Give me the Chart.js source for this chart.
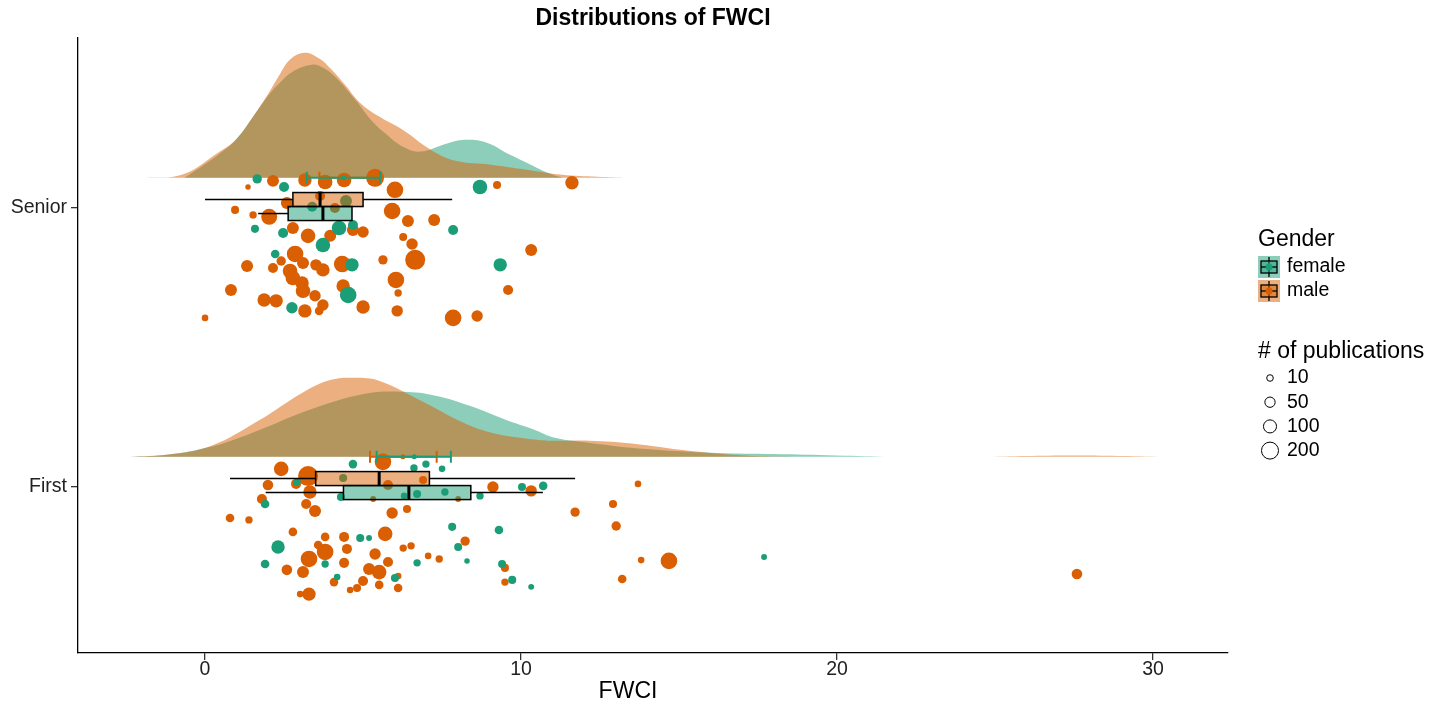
<!DOCTYPE html>
<html>
<head>
<meta charset="utf-8">
<title>Distributions of FWCI</title>
<script src="https://cdn.jsdelivr.net/npm/chart.js@4.4.1/dist/chart.umd.min.js"></script>
<style>
  body { margin: 0; background: #fff; }
  #wrap { width: 1442px; height: 709px; }
</style>
</head>
<body>
<div id="wrap"><canvas id="chart" width="1442" height="709"></canvas></div>
<script>
const FONT = '"Liberation Sans", Arial, sans-serif';
const TEAL = '#1b9e77';
const ORANGE = '#d95f02';

const categories = ['First', 'Senior'];
const xTicks = [0, 10, 20, 30];
const sizeBreaks = [10, 50, 100, 200];

// points: [FWCI, vertical jitter (category units), # of publications]
const seniorFemale = [
  [1.65, 0.104, 37], [2.50, 0.075, 46], [1.58, -0.075, 22], [2.47, -0.090, 46], [2.22, -0.165, 28],
  [3.73, -0.133, 135], [4.24, -0.072, 135], [4.68, -0.061, 46], [4.65, -0.204, 107], [4.53, -0.312, 188],
  [2.75, -0.358, 68], [8.70, 0.075, 135], [7.85, -0.079, 46], [9.34, -0.204, 107], [3.39, 0.004, 46],
  [4.46, 0.025, 78]
];
const seniorMale = [
  [1.36, 0.075, 4], [2.15, 0.097, 78], [3.16, 0.100, 107], [3.80, 0.093, 135], [4.40, 0.100, 135],
  [5.38, 0.108, 231], [6.01, 0.065, 188], [0.95, -0.007, 22], [1.52, -0.025, 16], [2.03, -0.032, 171],
  [2.59, 0.018, 78], [2.78, -0.072, 78], [3.26, -0.100, 135], [3.96, -0.100, 78], [4.68, -0.079, 78],
  [5.00, -0.086, 68], [5.92, -0.011, 188], [2.85, -0.165, 188], [3.10, -0.197, 78], [2.41, -0.190, 37],
  [1.33, -0.208, 78], [2.15, -0.215, 46], [2.69, -0.226, 135], [2.78, -0.251, 135], [3.51, -0.204, 68],
  [3.73, -0.222, 107], [4.34, -0.201, 188], [5.63, -0.186, 37], [3.07, -0.269, 107], [3.10, -0.297, 135],
  [3.48, -0.315, 68], [4.37, -0.280, 107], [0.82, -0.294, 78], [1.87, -0.330, 107], [2.25, -0.333, 107],
  [3.73, -0.348, 68], [3.61, -0.369, 28], [3.16, -0.369, 107], [5.00, -0.355, 107], [0.00, -0.394, 10],
  [6.04, -0.258, 188], [6.11, -0.305, 16], [6.08, -0.369, 68], [6.42, -0.047, 78], [6.27, -0.104, 22],
  [6.55, -0.129, 68], [6.65, -0.186, 299], [7.25, -0.043, 78], [7.85, -0.394, 188], [8.61, -0.387, 68],
  [9.59, -0.294, 46], [10.32, -0.151, 78], [9.24, 0.082, 22], [11.61, 0.090, 107], [4.11, 0.000, 46],
  [3.64, 0.043, 46]
];
const firstFemale = [
  [4.68, 0.082, 28], [6.61, 0.068, 16], [6.99, 0.082, 16], [2.91, 0.018, 16], [1.90, -0.061, 28],
  [4.30, -0.036, 22], [2.31, -0.215, 107], [4.91, -0.183, 22], [5.19, -0.183, 6], [1.90, -0.276, 28],
  [3.80, -0.276, 16], [4.18, -0.323, 10], [6.01, -0.326, 22], [6.71, -0.272, 16], [6.30, -0.032, 10],
  [6.71, -0.025, 22], [4.37, 0.032, 22], [7.50, 0.065, 10], [8.70, -0.032, 16], [10.03, 0.000, 22],
  [10.70, 0.004, 28], [7.82, -0.143, 22], [9.30, -0.154, 28], [8.01, -0.215, 22], [8.29, -0.265, 4],
  [9.40, -0.276, 22], [9.72, -0.333, 22], [10.32, -0.358, 6], [7.59, -0.018, 16], [17.69, -0.251, 6]
];
const firstMale = [
  [2.41, 0.065, 135], [3.26, 0.039, 299], [3.32, -0.018, 107], [1.99, 0.007, 55], [2.88, 0.011, 46],
  [1.80, -0.043, 46], [0.79, -0.111, 28], [1.39, -0.118, 16], [3.20, -0.061, 46], [3.48, -0.086, 78],
  [2.78, -0.161, 28], [3.80, -0.179, 28], [4.40, -0.179, 46], [5.70, -0.168, 135], [4.49, -0.222, 46],
  [3.80, -0.233, 188], [3.58, -0.208, 28], [3.29, -0.258, 188], [2.59, -0.297, 55], [3.10, -0.305, 78],
  [4.40, -0.272, 46], [5.38, -0.240, 68], [5.79, -0.269, 46], [5.19, -0.294, 78], [5.51, -0.305, 135],
  [4.08, -0.341, 28], [5.00, -0.337, 46], [4.81, -0.362, 22], [4.59, -0.369, 10], [5.51, -0.351, 28],
  [6.11, -0.362, 28], [6.11, -0.319, 10], [3.29, -0.384, 107], [3.01, -0.384, 10], [5.92, -0.093, 68],
  [6.39, -0.079, 22], [5.32, -0.043, 6], [5.79, 0.007, 46], [5.63, 0.090, 188], [6.27, -0.219, 16],
  [6.52, -0.211, 16], [7.06, -0.247, 10], [6.90, 0.025, 22], [9.11, 0.000, 68], [10.32, -0.014, 68],
  [8.01, -0.043, 6], [11.71, -0.090, 37], [12.91, -0.061, 22], [13.01, -0.140, 37], [8.23, -0.194, 37],
  [7.41, -0.258, 16], [9.49, -0.290, 22], [9.49, -0.341, 16], [13.20, -0.330, 28], [13.70, 0.011, 10],
  [13.80, -0.262, 10], [14.68, -0.265, 188], [27.59, -0.312, 55]
];

// boxplot stats: [lower whisker, Q1, median, Q3, upper whisker]
const boxSeniorFemale = [1.68, 2.63, 3.73, 4.65, 4.65];
const boxSeniorMale = [0.00, 2.78, 3.64, 5.00, 7.82];
const boxFirstFemale = [1.92, 4.38, 6.45, 8.41, 10.69];
const boxFirstMale = [0.79, 3.50, 5.51, 7.10, 11.71];

// mean with error bar: [low, mean, high]
const errSeniorFemale = [3.22, 4.38, 5.54];
const errSeniorMale = [3.62, 4.40, 5.20];
const errFirstFemale = [5.43, 6.62, 7.78];
const errFirstMale = [5.22, 6.26, 7.33];

// density curves: [FWCI, scaled density]
const densSeniorFemale = [
  [-0.65, 0], [0.41, 0.082], [0.98, 0.137], [1.54, 0.222], [1.99, 0.293], [2.32, 0.335],
  [2.77, 0.380], [3.37, 0.405], [3.67, 0.398], [4.10, 0.364], [4.78, 0.276], [5.24, 0.209],
  [5.68, 0.161], [6.25, 0.112], [6.81, 0.094], [7.71, 0.125], [8.29, 0.136], [8.94, 0.125],
  [9.62, 0.084], [10.18, 0.054], [10.84, 0.018], [11.30, 0]
];
const densSeniorMale = [
  [-1.89, 0], [-0.71, 0.012], [0.41, 0.090], [0.98, 0.137], [1.54, 0.222], [1.99, 0.299],
  [2.32, 0.362], [2.70, 0.425], [3.16, 0.448], [3.60, 0.428], [4.00, 0.388], [4.46, 0.329],
  [4.90, 0.269], [5.47, 0.222], [6.25, 0.172], [7.15, 0.100], [7.93, 0.061], [9.05, 0.047],
  [10.18, 0.029], [11.30, 0.011], [12.40, 0.004], [13.40, 0]
];
const densFirstFemale = [
  [-2.37, 0], [-1.15, 0.008], [0.18, 0.036], [1.00, 0.065], [1.74, 0.097], [3.29, 0.168],
  [5.06, 0.226], [6.29, 0.233], [7.29, 0.219], [8.40, 0.182], [9.51, 0.133], [10.40, 0.098],
  [11.07, 0.068], [12.18, 0.050], [13.96, 0.028], [16.18, 0.014], [17.96, 0.010], [19.96, 0.005],
  [21.74, 0]
];
const densFirstMale = [
  [-2.37, 0], [-1.15, 0.008], [0.18, 0.039], [1.74, 0.133], [3.07, 0.229], [3.96, 0.275],
  [4.74, 0.283], [5.52, 0.272], [6.85, 0.200], [8.18, 0.122], [9.07, 0.086], [9.96, 0.068],
  [10.85, 0.058], [12.18, 0.058], [13.50, 0.048], [15.30, 0.022], [17.07, 0.005], [18.85, 0],
  [24.50, 0], [27.50, 0.005], [30.60, 0]
];

const CLOUD_BASE = 0.108;   // density baseline above each category
const BOX_SPLIT = 0.005;    // dodge line between the two boxes

function radius(n) { return 1.8 + 0.474 * Math.sqrt(n); }
function alpha(hex, a) {
  const v = parseInt(hex.slice(1), 16);
  return `rgba(${v >> 16},${(v >> 8) & 255},${v & 255},${a})`;
}

// a density that drops to zero and rises again is split into separate pieces
function pieces(dens) {
  const out = [[]];
  dens.forEach((pt, i) => {
    const prev = dens[i - 1];
    if (prev && prev[1] === 0 && pt[1] === 0) out.push([]);
    out[out.length - 1].push(pt);
  });
  return out.filter(p => p.length > 1);
}

function densitySets(dens, cat, color, order) {
  const base = cat + CLOUD_BASE;
  return pieces(dens).map(part => ({
    type: 'line',
    data: part.map(([x, d]) => ({ x, y: base + d })),
    fill: { value: base },
    backgroundColor: alpha(color, 0.5),
    borderColor: 'rgba(0,0,0,0)',
    borderWidth: 0,
    pointRadius: 0,
    tension: 0.4,
    order
  }));
}
function pointSet(pts, cat, color, order) {
  return {
    type: 'bubble',
    data: pts.map(([x, j, n]) => ({ x, y: cat + j, r: radius(n) })),
    backgroundColor: color,
    borderWidth: 0,
    order
  };
}

const SENIOR = categories.indexOf('Senior');
const FIRST = categories.indexOf('First');

const datasets = [
  ...densitySets(densSeniorFemale, SENIOR, TEAL, 21),
  ...densitySets(densSeniorMale, SENIOR, ORANGE, 20),
  ...densitySets(densFirstFemale, FIRST, TEAL, 21),
  ...densitySets(densFirstMale, FIRST, ORANGE, 20),
  pointSet(seniorMale, SENIOR, ORANGE, 4),
  pointSet(firstMale, FIRST, ORANGE, 4),
  pointSet(seniorFemale, SENIOR, TEAL, 2),
  pointSet(firstFemale, FIRST, TEAL, 2)
];

function drawBox(ctx, xs, ys, s, cat, color, above) {
  const split = ys.getPixelForValue(cat + BOX_SPLIT);
  const h = 14;
  const top = above ? split - h : split;
  const mid = top + h / 2;
  const p = v => xs.getPixelForValue(v);
  ctx.save();
  ctx.strokeStyle = '#000';
  ctx.lineWidth = 1.5;
  ctx.beginPath();
  ctx.moveTo(p(s[0]), mid); ctx.lineTo(p(s[1]), mid);
  ctx.moveTo(p(s[3]), mid); ctx.lineTo(p(s[4]), mid);
  ctx.stroke();
  ctx.fillStyle = alpha(color, 0.5);
  ctx.fillRect(p(s[1]), top, p(s[3]) - p(s[1]), h);
  ctx.strokeRect(p(s[1]), top, p(s[3]) - p(s[1]), h);
  ctx.lineWidth = 3;
  ctx.beginPath();
  ctx.moveTo(p(s[2]), top); ctx.lineTo(p(s[2]), top + h);
  ctx.stroke();
  ctx.restore();
}

function drawErr(ctx, xs, ys, e, cat, color) {
  const y = ys.getPixelForValue(cat + CLOUD_BASE);
  const p = v => xs.getPixelForValue(v);
  ctx.save();
  ctx.strokeStyle = color;
  ctx.lineWidth = 2;
  ctx.beginPath();
  ctx.moveTo(p(e[0]), y); ctx.lineTo(p(e[2]), y);
  ctx.moveTo(p(e[0]), y - 6); ctx.lineTo(p(e[0]), y + 6);
  ctx.moveTo(p(e[2]), y - 6); ctx.lineTo(p(e[2]), y + 6);
  ctx.stroke();
  ctx.fillStyle = color;
  ctx.beginPath();
  ctx.arc(p(e[1]), y, 2.5, 0, Math.PI * 2);
  ctx.fill();
  ctx.restore();
}

const extras = {
  id: 'extras',
  afterDatasetsDraw(chart) {
    const { ctx, scales: { x, y } } = chart;
    drawBox(ctx, x, y, boxSeniorMale, SENIOR, ORANGE, true);
    drawBox(ctx, x, y, boxSeniorFemale, SENIOR, TEAL, false);
    drawBox(ctx, x, y, boxFirstMale, FIRST, ORANGE, true);
    drawBox(ctx, x, y, boxFirstFemale, FIRST, TEAL, false);
    drawErr(ctx, x, y, errSeniorMale, SENIOR, ORANGE);
    drawErr(ctx, x, y, errFirstMale, FIRST, ORANGE);
    drawErr(ctx, x, y, errSeniorFemale, SENIOR, TEAL);
    drawErr(ctx, x, y, errFirstFemale, FIRST, TEAL);
  },
  afterDraw(chart) {
    const { ctx, chartArea } = chart;
    ctx.save();
    ctx.fillStyle = '#000';
    ctx.textBaseline = 'middle';
    ctx.textAlign = 'center';
    ctx.font = `bold 23px ${FONT}`;
    ctx.fillText('Distributions of FWCI', (chartArea.left + chartArea.right) / 2, 19);

    // x axis title
    ctx.font = `23px ${FONT}`;
    ctx.fillText('FWCI', 628, 692);

    // legend: gender
    const lx = 1258;
    ctx.textAlign = 'left';
    ctx.fillText('Gender', lx, 240);
    [['female', TEAL, 256], ['male', ORANGE, 280]].forEach(([lab, col, ky]) => {
      ctx.fillStyle = alpha(col, 0.5);
      ctx.fillRect(lx, ky, 22, 22);
      ctx.strokeStyle = '#000';
      ctx.lineWidth = 1.3;
      ctx.beginPath();
      ctx.moveTo(lx + 11, ky + 1); ctx.lineTo(lx + 11, ky + 21);
      ctx.stroke();
      ctx.fillStyle = alpha(col, 0.5);
      ctx.fillRect(lx + 3, ky + 5, 16, 12);
      ctx.strokeRect(lx + 3, ky + 5, 16, 12);
      ctx.beginPath();
      ctx.moveTo(lx + 3, ky + 11); ctx.lineTo(lx + 19, ky + 11);
      ctx.stroke();
      ctx.fillStyle = col;
      ctx.beginPath();
      ctx.arc(lx + 11, ky + 11, 3.5, 0, Math.PI * 2);
      ctx.fill();
      ctx.fillStyle = '#000';
      ctx.font = `19.5px ${FONT}`;
      ctx.fillText(lab, lx + 29, ky + 11);
    });

    // legend: publications
    ctx.font = `23px ${FONT}`;
    ctx.fillText('# of publications', lx, 352);
    ctx.font = `19.5px ${FONT}`;
    sizeBreaks.forEach((n, i) => {
      const cy = 378 + i * 24.2;
      ctx.strokeStyle = '#000';
      ctx.lineWidth = 1;
      ctx.beginPath();
      ctx.arc(lx + 12, cy, radius(n), 0, Math.PI * 2);
      ctx.stroke();
      ctx.fillText(String(n), lx + 29, cy);
    });
    ctx.restore();
  }
};

const axisLine = { display: true, color: '#000', width: 1.3 };

new Chart(document.getElementById('chart'), {
  data: { datasets },
  options: {
    responsive: false,
    animation: false,
    events: [],
    layout: { padding: { left: 0, right: 214, top: 38, bottom: 0 } },
    plugins: { legend: { display: false }, tooltip: { enabled: false }, title: { display: false } },
    scales: {
      x: {
        type: 'linear',
        min: -4.02,
        max: 32.37,
        afterBuildTicks: s => { s.ticks = xTicks.map(v => ({ value: v })); },
        afterFit: s => { s.height = 56; },
        border: axisLine,
        grid: { display: true, drawOnChartArea: false, drawTicks: true, tickLength: 7, color: '#333', lineWidth: 1.3 },
        ticks: { font: { family: FONT, size: 19.5 }, color: '#222', padding: -2, maxRotation: 0 }
      },
      y: {
        type: 'linear',
        min: -0.595,
        max: 1.609,
        afterBuildTicks: s => { s.ticks = categories.map((c, i) => ({ value: i })); },
        afterFit: s => { s.width = 78; },
        border: axisLine,
        grid: { display: true, drawOnChartArea: false, drawTicks: true, tickLength: 7, color: '#333', lineWidth: 1.3 },
        ticks: { font: { family: FONT, size: 19.5 }, color: '#222', padding: 4, callback: v => categories[v] }
      }
    }
  },
  plugins: [extras]
});
</script>
</body>
</html>
